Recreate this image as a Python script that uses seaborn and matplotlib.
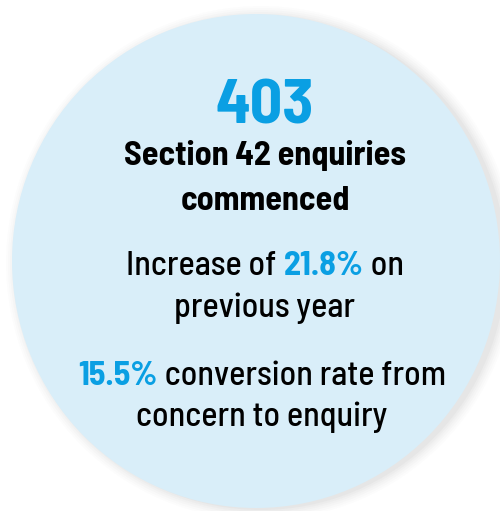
import matplotlib
matplotlib.use("Agg")
import matplotlib.pyplot as plt
import seaborn as sns
from matplotlib.patches import Ellipse

# Valores do cartão
headline = "403"
titulo = ["Section 42 enquiries", "commenced"]
linha_aumento = [("Increase of ", "k"), ("21.8%", "blue"), (" on", "k")]
linha_prev = [("previous year", "k")]
linha_conv = [("15.5%", "blue"), (" conversion rate from", "k")]
linha_conc = [("concern to enquiry", "k")]

sns.set_theme(style="white")
plt.rcParams["font.family"] = ["Barlow Semi Condensed", "DejaVu Sans"]

AZUL = "#0A9FE3"
FUNDO = "#D9EEF9"

fig = plt.figure(figsize=(5, 5.11), dpi=100)
ax = fig.add_axes([0, 0, 1, 1])
ax.set_xlim(0, 500)
ax.set_ylim(511, 0)
ax.axis("off")

# sombra suave + círculo
for i, a in enumerate([0.05, 0.04, 0.03, 0.025, 0.02, 0.015]):
    ax.add_patch(Ellipse((261, 263), 2 * (245 + i * 2), 2 * (247 + i * 2),
                         color="#777777", alpha=a, lw=0))
ax.add_patch(Ellipse((256, 261), 488, 494, color=FUNDO, lw=0))

fig.canvas.draw()
rend = fig.canvas.get_renderer()


def linha(partes, y, size, weight="medium", cx=265):
    textos = []
    for s, c in partes:
        azul = c == "blue"
        t = ax.text(0, y, s, fontsize=size,
                    fontweight="bold" if azul else weight,
                    color=AZUL if azul else "black",
                    ha="left", va="baseline")
        textos.append(t)
    larg = [t.get_window_extent(rend).width for t in textos]
    x = cx - sum(larg) / 2
    for t, w in zip(textos, larg):
        t.set_x(x)
        x += w


linha([(headline, "blue")], 123, 46, "bold")
linha([(titulo[0], "k")], 165, 24.5, "bold")
linha([(titulo[1], "k")], 210, 24.5, "bold")
linha(linha_aumento, 275, 24.5)
linha(linha_prev, 317, 24.5)
linha(linha_conv, 385, 24.5, cx=262)
linha(linha_conc, 426, 24.5, cx=262)

plt.savefig("out.png", dpi=100)
plt.close()
